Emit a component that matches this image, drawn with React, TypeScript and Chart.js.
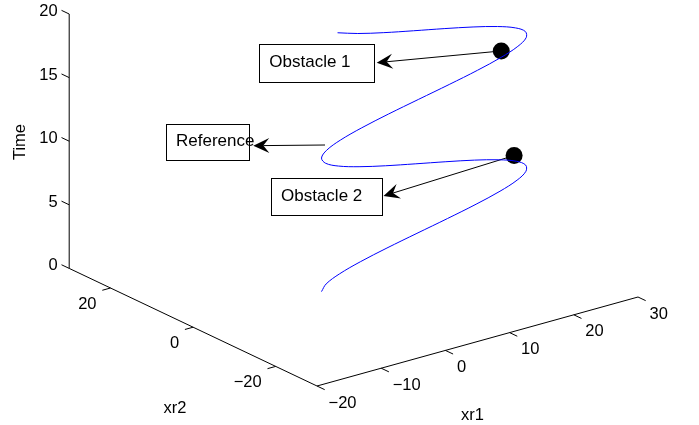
import { useEffect, useRef } from 'react';
import { Chart, registerables } from 'chart.js';

Chart.register(...registerables);

// ---- Data ----
const timeValues = [
  0, 0.5, 1, 1.5, 2, 2.5, 3, 3.5, 4, 4.5, 5, 5.5, 6, 6.5, 7, 7.5, 8, 8.5, 9, 9.5, 10,
  10.5, 11, 11.5, 12, 12.5, 13, 13.5, 14, 14.5, 15, 15.5, 16, 16.5, 17, 17.5, 18, 18.5, 19, 19.5, 20,
];
const xr1Values = [
  0, 0.72, 2.8, 6.05, 10.2, 14.87, 19.64, 24.08, 27.8, 30.47, 31.84, 31.8, 30.35, 27.61, 23.84, 19.37,
  14.6, 9.95, 5.85, 2.64, 0.64, 0, 0.8, 2.95, 6.27, 10.45, 15.14, 19.9, 24.31, 27.98, 30.58, 31.88,
  31.76, 30.23, 27.43, 23.61, 19.11, 14.33, 9.7, 5.65, 2.5,
];
const xr2Values = [
  0, 0, 0, 0, 0, 0, 0, 0, 0, 0, 0, 0, 0, 0, 0, 0, 0, 0, 0, 0, 0,
  0, 0, 0, 0, 0, 0, 0, 0, 0, 0, 0, 0, 0, 0, 0, 0, 0, 0, 0, 0,
];
const obstacleNames = ['Obstacle 1', 'Obstacle 2'];
const obstacleXr1 = [28, 30];
const obstacleXr2 = [0, 0];
const obstacleTime = [15, 6.5];

const xr1Ticks = [-20, -10, 0, 10, 20, 30];
const xr2Ticks = [-20, 0, 20];
const timeTicks = [0, 5, 10, 15, 20];
const xr1Range = [-20, 30];
const xr2Range = [-30, 30];
const timeRange = [0, 20];

// ---- 3D view (projection of the MATLAB axes box onto the canvas plane) ----
const W = 699;
const H = 425;
const ORIGIN = { x: 317, y: 386 }; // (xr1 min, xr2 min, time min)
const E1 = { x: 6.42, y: -1.78 }; // per unit xr1
const E2 = { x: -4.13, y: -1.96 }; // per unit xr2
const E3 = { x: 0, y: -12.72 }; // per unit time

function proj(a: number, b: number, c: number) {
  const da = a - xr1Range[0];
  const db = b - xr2Range[0];
  const dc = c - timeRange[0];
  return {
    x: ORIGIN.x + E1.x * da + E2.x * db + E3.x * dc,
    y: ORIGIN.y + E1.y * da + E2.y * db + E3.y * dc,
  };
}

const FONT = '"Liberation Sans", Arial, Helvetica, sans-serif';
const fmt = (v: number) => (v < 0 ? '\u2212' + Math.abs(v) : String(v));

function norm(v: { x: number; y: number }) {
  const l = Math.hypot(v.x, v.y);
  return { x: v.x / l, y: v.y / l };
}

function drawArrow(ctx: CanvasRenderingContext2D, x0: number, y0: number, x1: number, y1: number) {
  const u = norm({ x: x1 - x0, y: y1 - y0 });
  const n = { x: -u.y, y: u.x };
  const L = 16;
  const N = 10;
  const Wd = 15;
  ctx.save();
  ctx.strokeStyle = '#000';
  ctx.fillStyle = '#000';
  ctx.lineWidth = 1;
  ctx.beginPath();
  ctx.moveTo(x0, y0);
  ctx.lineTo(x1 - u.x * N, y1 - u.y * N);
  ctx.stroke();
  ctx.beginPath();
  ctx.moveTo(x1, y1);
  ctx.lineTo(x1 - u.x * L + n.x * Wd / 2, y1 - u.y * L + n.y * Wd / 2);
  ctx.lineTo(x1 - u.x * N, y1 - u.y * N);
  ctx.lineTo(x1 - u.x * L - n.x * Wd / 2, y1 - u.y * L - n.y * Wd / 2);
  ctx.closePath();
  ctx.fill();
  ctx.restore();
}

function drawBox(ctx: CanvasRenderingContext2D, text: string, l: number, t: number, r: number, b: number) {
  ctx.save();
  ctx.fillStyle = '#fff';
  ctx.fillRect(l, t, r - l, b - t);
  ctx.strokeStyle = '#000';
  ctx.lineWidth = 1;
  ctx.strokeRect(Math.round(l) + 0.5, Math.round(t) + 0.5, Math.round(r - l), Math.round(b - t));
  ctx.fillStyle = '#000';
  ctx.font = `17px ${FONT}`;
  ctx.textAlign = 'left';
  ctx.textBaseline = 'middle';
  ctx.fillText(text, l + 10, (t + b) / 2 - 1);
  ctx.restore();
}

const axesPlugin = {
  id: 'axes3d',
  beforeDatasetsDraw(chart: any) {
    const ctx: CanvasRenderingContext2D = chart.ctx;
    const sx = chart.scales.x;
    const sy = chart.scales.y;
    const P = (a: number, b: number, c: number) => {
      const p = proj(a, b, c);
      return { x: sx.getPixelForValue(p.x), y: sy.getPixelForValue(p.y) };
    };
    ctx.save();
    ctx.strokeStyle = '#000';
    ctx.lineWidth = 1;
    const line = (p: any, q: any) => {
      ctx.beginPath();
      ctx.moveTo(p.x, p.y);
      ctx.lineTo(q.x, q.y);
      ctx.stroke();
    };
    // axis lines
    line(P(xr1Range[0], xr2Range[1], timeRange[0]), P(xr1Range[0], xr2Range[1], timeRange[1]));
    line(P(xr1Range[0], xr2Range[1], timeRange[0]), P(xr1Range[0], xr2Range[0], timeRange[0]));
    line(P(xr1Range[0], xr2Range[0], timeRange[0]), P(xr1Range[1], xr2Range[0], timeRange[0]));

    const tl = 8.5;
    const d2 = norm(E2);
    const d1 = norm(E1);
    ctx.fillStyle = '#000';
    ctx.font = `16.5px ${FONT}`;
    ctx.textBaseline = 'middle';
    // time ticks
    ctx.textAlign = 'right';
    for (const t of timeTicks) {
      const p = P(xr1Range[0], xr2Range[1], t);
      const q = { x: p.x + d2.x * tl, y: p.y + d2.y * tl };
      line(p, q);
      ctx.fillText(fmt(t), p.x - 11.5, p.y - 2.5);
    }
    // xr2 ticks
    for (const v of xr2Ticks) {
      const p = P(xr1Range[0], v, timeRange[0]);
      const q = { x: p.x - d1.x * tl, y: p.y - d1.y * tl };
      line(p, q);
      ctx.fillText(fmt(v), p.x - 14, p.y + 16);
    }
    // xr1 ticks
    ctx.textAlign = 'left';
    for (const v of xr1Ticks) {
      const p = P(v, xr2Range[0], timeRange[0]);
      const q = { x: p.x - d2.x * tl, y: p.y - d2.y * tl };
      line(p, q);
      ctx.fillText(fmt(v), p.x + 11.5, p.y + 17);
    }
    // axis titles
    ctx.textAlign = 'center';
    ctx.fillText('xr2', 175, 408);
    ctx.fillText('xr1', 472.5, 415);
    ctx.save();
    ctx.translate(20, 142);
    ctx.rotate(-Math.PI / 2);
    ctx.fillText('Time', 0, 0);
    ctx.restore();

    // annotation arrows
    const o1 = P(obstacleXr1[0], obstacleXr2[0], obstacleTime[0]);
    const o2 = P(obstacleXr1[1], obstacleXr2[1], obstacleTime[1]);
    drawArrow(ctx, o1.x, o1.y, 376.7, 62.7);
    drawArrow(ctx, o2.x, o2.y, 383.5, 196);
    drawArrow(ctx, 325, 145, 253.3, 145.7);
    ctx.restore();
  },
  afterDatasetsDraw(chart: any) {
    const ctx: CanvasRenderingContext2D = chart.ctx;
    drawBox(ctx, obstacleNames[0], 259.3, 44, 374.3, 81.7);
    drawBox(ctx, obstacleNames[1], 271, 178.3, 381.7, 215.7);
    // Reference box: text overflows to the right in the original
    ctx.save();
    ctx.fillStyle = '#fff';
    ctx.fillRect(166.7, 124.3, 82.6, 36.7);
    ctx.strokeStyle = '#000';
    ctx.lineWidth = 1;
    ctx.strokeRect(166.5, 124.5, 83, 36);
    ctx.fillStyle = '#000';
    ctx.font = `17px ${FONT}`;
    ctx.textBaseline = 'middle';
    ctx.textAlign = 'left';
    ctx.fillText('Reference', 176, 141);
    ctx.restore();
  },
};

export default function App() {
  const ref = useRef<HTMLCanvasElement | null>(null);
  useEffect(() => {
    if (!ref.current) return;
    const curve = timeValues.map((t, i) => proj(xr1Values[i], xr2Values[i], t));
    const obstacles = obstacleTime.map((t, i) => proj(obstacleXr1[i], obstacleXr2[i], t));
    const chart = new Chart(ref.current, {
      type: 'scatter',
      data: {
        datasets: [
          {
            label: 'Reference',
            data: curve,
            showLine: true,
            borderColor: '#0000ff',
            borderWidth: 1,
            pointRadius: 0,
            tension: 0.35,
            fill: false,
          },
          {
            label: 'Obstacles',
            data: obstacles,
            showLine: false,
            pointRadius: 8.5,
            pointBackgroundColor: '#000',
            pointBorderColor: '#000',
            pointBorderWidth: 0,
          },
        ],
      },
      options: {
        responsive: false,
        animation: false,
        events: [],
        layout: { padding: 0, autoPadding: false },
        plugins: { legend: { display: false }, tooltip: { enabled: false } },
        scales: {
          x: { type: 'linear', min: 0, max: W, display: false },
          y: { type: 'linear', min: 0, max: H, reverse: true, display: false },
        },
      },
      plugins: [axesPlugin],
    });
    return () => chart.destroy();
  }, []);
  return (
    <div style={{ position: 'fixed', left: 0, top: 0, width: W, height: H, background: '#fff' }}>
      <canvas ref={ref} width={W} height={H} style={{ display: 'block' }} />
    </div>
  );
}
